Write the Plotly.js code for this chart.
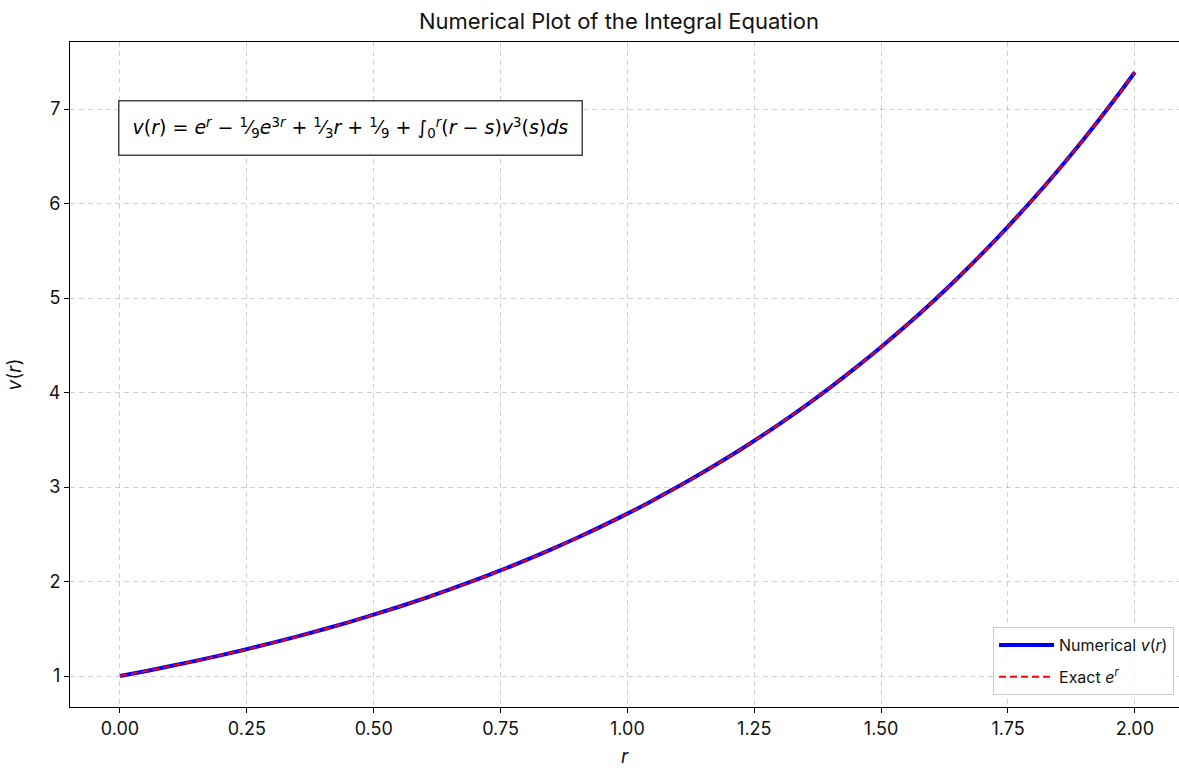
<!DOCTYPE html>
<html>
<head>
<meta charset="utf-8">
<script src="https://cdn.plot.ly/plotly-3.0.1.min.js"></script>
<style>html,body{margin:0;padding:0;background:#fff;}#chart{width:1179px;height:770px;}</style>
</head>
<body>
<div id="chart"></div>
<script>
const rValues = [0.00,0.05,0.10,0.15,0.20,0.25,0.30,0.35,0.40,0.45,0.50,0.55,0.60,0.65,0.70,0.75,0.80,0.85,0.90,0.95,1.00,1.05,1.10,1.15,1.20,1.25,1.30,1.35,1.40,1.45,1.50,1.55,1.60,1.65,1.70,1.75,1.80,1.85,1.90,1.95,2.00];
const numericalV = [1.000,1.051,1.105,1.162,1.221,1.284,1.350,1.419,1.492,1.568,1.649,1.733,1.822,1.916,2.014,2.117,2.226,2.340,2.460,2.586,2.718,2.858,3.004,3.158,3.320,3.490,3.669,3.857,4.055,4.263,4.482,4.711,4.953,5.207,5.474,5.755,6.050,6.360,6.686,7.029,7.389];
const exactV = [1.000,1.051,1.105,1.162,1.221,1.284,1.350,1.419,1.492,1.568,1.649,1.733,1.822,1.916,2.014,2.117,2.226,2.340,2.460,2.586,2.718,2.858,3.004,3.158,3.320,3.490,3.669,3.857,4.055,4.263,4.482,4.711,4.953,5.207,5.474,5.755,6.050,6.360,6.686,7.029,7.389];
const xTicks = [0,0.25,0.5,0.75,1,1.25,1.5,1.75,2];
const xTickLabels = ['0.00','0.25','0.50','0.75','1.00','1.25','1.50','1.75','2.00'];
const yTicks = [1,2,3,4,5,6,7];

const font = 'Inter, "Open Sans", sans-serif';
const traces = [
  {x: rValues, y: numericalV, mode: 'lines', name: 'Numerical <i>v</i>(<i>r</i>)', legendgroup: 'a',
   line: {color: '#0000ff', width: 4, shape: 'spline'}},
  {x: rValues, y: exactV, mode: 'lines', name: 'Exact <i>e</i><sup><i>r</i></sup>', legendgroup: 'b',
   line: {color: '#ff0000', width: 2, dash: '7px,4px', shape: 'spline'}}
];
const layout = {
  width: 1179, height: 770,
  margin: {l: 70, r: 0, t: 42, b: 63},
  paper_bgcolor: '#fff', plot_bgcolor: '#fff',
  font: {family: font, color: '#111', size: 17},
  title: {text: 'Numerical Plot of the Integral Equation', x: 0.525, xanchor: 'center', y: 0.972, yanchor: 'middle',
          font: {family: font, size: 22, color: '#111'}},
  xaxis: {range: [-0.0985, 2.087], tickvals: xTicks, ticktext: xTickLabels,
          showline: true, linecolor: '#000', linewidth: 1, mirror: true,
          ticks: 'outside', ticklen: 5, tickcolor: '#000',
          showgrid: true, gridcolor: 'rgba(176,176,176,0.6)', griddash: '5px,4px', gridwidth: 1,
          zeroline: false, tickfont: {size: 18, family: font, color: '#111'},
          title: {text: '<i>r</i>', font: {size: 19, family: font, color: '#111'}, standoff: 12}},
  yaxis: {range: [0.672, 7.709], tickvals: yTicks,
          showline: true, linecolor: '#000', linewidth: 1, mirror: true,
          ticks: 'outside', ticklen: 5, tickcolor: '#000',
          showgrid: true, gridcolor: 'rgba(176,176,176,0.6)', griddash: '5px,4px', gridwidth: 1,
          zeroline: false, tickfont: {size: 18, family: font, color: '#111'},
          title: {text: '<i>v</i>(<i>r</i>)', font: {size: 19, family: font, color: '#111'}, standoff: 22}},
  legend: {x: 0.9955, y: 0.018, xanchor: 'right', yanchor: 'bottom',
           bgcolor: 'rgba(255,255,255,0.8)', bordercolor: '#ccc', borderwidth: 1,
           traceorder: 'grouped', tracegroupgap: 8,
           font: {size: 16, family: font, color: '#111'}, itemwidth: 55},
  showlegend: true,
  annotations: [{
    xref: 'paper', yref: 'paper', x: 0.0433, y: 0.913, xanchor: 'left', yanchor: 'top',
    showarrow: false, align: 'left',
    text: '<i>v</i>(<i>r</i>) = <i>e</i><sup><i>r</i></sup> − <sup>1</sup>⁄<sub>9</sub><i>e</i><sup>3<i>r</i></sup> + <sup>1</sup>⁄<sub>3</sub><i>r</i> + <sup>1</sup>⁄<sub>9</sub> + ∫<sub>0</sub><sup><i>r</i></sup>(<i>r</i> − <i>s</i>)<i>v</i><sup>3</sup>(<i>s</i>)<i>ds</i>',
    font: {family: '"DejaVu Sans", sans-serif', size: 19, color: '#000'},
    bgcolor: '#fff', bordercolor: '#444', borderwidth: 1.5, borderpad: 13
  }]
};
Plotly.newPlot('chart', traces, layout, {displayModeBar: false, staticPlot: true});
</script>
</body>
</html>
